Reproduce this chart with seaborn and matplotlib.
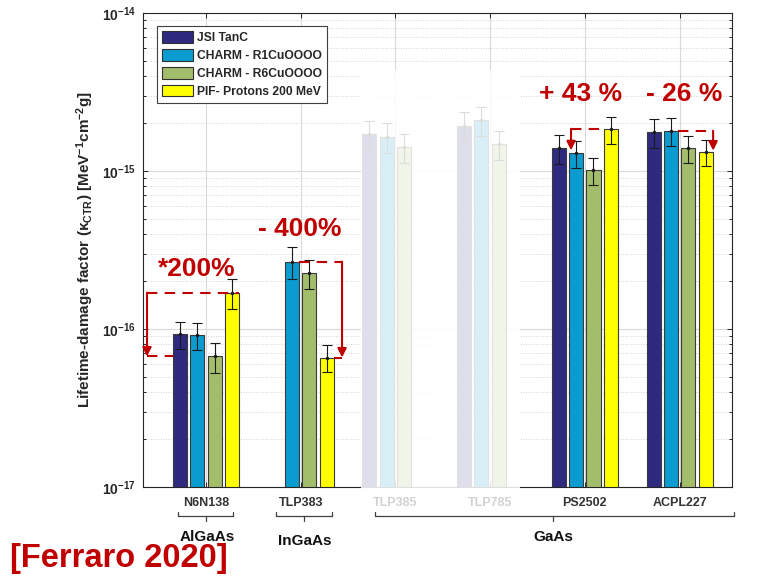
import numpy as np
import pandas as pd
import matplotlib
matplotlib.use("Agg")
import matplotlib.pyplot as plt
from matplotlib.patches import Patch, Rectangle
from matplotlib.ticker import FixedLocator, FuncFormatter, LogLocator, NullFormatter
import seaborn as sns

# ---- data -------------------------------------------------------------
devices = ["N6N138", "TLP383", "TLP385", "TLP785", "PS2502", "ACPL227"]
sources = ["JSI TanC", "CHARM - R1CuOOOO", "CHARM - R6CuOOOO", "PIF- Protons 200 MeV"]
nan = np.nan
jsi = [9.3e-17, nan, 1.72e-15, 1.94e-15, 1.40e-15, 1.77e-15]
r1 = [9.1e-17, 2.67e-16, 1.65e-15, 2.11e-15, 1.30e-15, 1.80e-15]
r6 = [6.7e-17, 2.27e-16, 1.42e-15, 1.49e-15, 1.01e-15, 1.40e-15]
pif = [1.7e-16, 6.6e-17, nan, nan, 1.85e-15, 1.32e-15]
jsi_err = [1.8e-17, nan, 3.6e-16, 4.1e-16, 2.9e-16, 3.7e-16]
r1_err = [1.75e-17, 6.1e-17, 3.5e-16, 4.4e-16, 2.5e-16, 3.5e-16]
r6_err = [1.4e-17, 4.8e-17, 3.0e-16, 3.1e-16, 1.9e-16, 2.7e-16]
pif_err = [3.6e-17, 1.27e-17, nan, nan, 3.6e-16, 2.5e-16]
faded_devices = ["TLP385", "TLP785"]
materials = ["AlGaAs", "InGaAs", "GaAs"]
# relative change labels: (text, device, reference source, compared source)
changes = [
    ("*200%", "N6N138", "PIF- Protons 200 MeV", "CHARM - R6CuOOOO"),
    ("- 400%", "TLP383", "CHARM - R1CuOOOO", "PIF- Protons 200 MeV"),
    ("+ 43 %", "PS2502", "PIF- Protons 200 MeV", "CHARM - R1CuOOOO"),
    ("- 26 %", "ACPL227", "CHARM - R1CuOOOO", "PIF- Protons 200 MeV"),
]
citation = "[Ferraro 2020]"

values = {"JSI TanC": jsi, "CHARM - R1CuOOOO": r1,
          "CHARM - R6CuOOOO": r6, "PIF- Protons 200 MeV": pif}
errors = {"JSI TanC": jsi_err, "CHARM - R1CuOOOO": r1_err,
          "CHARM - R6CuOOOO": r6_err, "PIF- Protons 200 MeV": pif_err}

rows = []
for s in sources:
    for d, v in zip(devices, values[s]):
        rows.append({"device": d, "source": s, "value": v})
df = pd.DataFrame(rows)

# ---- style --------------------------------------------------------------
sns.set_style("ticks")
plt.rcParams["font.family"] = ["Liberation Sans", "DejaVu Sans"]
plt.rcParams["mathtext.fontset"] = "custom"
plt.rcParams["mathtext.rm"] = "Liberation Sans"
plt.rcParams["mathtext.bf"] = "Liberation Sans:bold"
plt.rcParams["mathtext.it"] = "Liberation Sans:italic"
plt.rcParams["mathtext.sf"] = "Liberation Sans"

colors = ["#2E2A80", "#0A9BD0", "#A3BE6A", "#FFFF00"]
red = "#C00000"
axis_col = "#262626"

fig = plt.figure(figsize=(7.77, 5.79), dpi=100)
ax = fig.add_axes([143 / 777, 1 - 487 / 579, (732 - 143) / 777, (487 - 13) / 579])

sns.barplot(data=df, x="device", y="value", hue="source", order=devices,
            hue_order=sources, palette=colors, saturation=1, errorbar=None,
            width=0.732, gap=0.19, edgecolor="#3a3a3a", linewidth=0.8,
            legend=False, ax=ax)
ax.set_yscale("log")
ax.set_ylim(1e-17, 1e-14)
ax.set_xlim(-0.665, 5.554)

# error bars at the drawn bar centres
bars = {}
for s, cont in zip(sources, ax.containers):
    for b in cont:
        if not np.isfinite(b.get_height()) or b.get_height() <= 0:
            continue
        xc = b.get_x() + b.get_width() / 2
        i = int(round(xc))
        bars[(devices[i], s)] = b
        ax.errorbar(xc, values[s][i], yerr=errors[s][i], fmt=".", color="#1a1a1a",
                    ms=3, elinewidth=0.8, capsize=3.5, capthick=0.8, zorder=2)

# grid & ticks
ax.set_axisbelow(True)
ax.yaxis.set_major_locator(FixedLocator([1e-17, 1e-16, 1e-15, 1e-14]))
ax.yaxis.set_minor_locator(LogLocator(base=10, subs=np.arange(2, 10)))
ax.yaxis.set_minor_formatter(NullFormatter())
ax.yaxis.set_major_formatter(FuncFormatter(
    lambda v, p: "10$^{\\mathbf{%d}}$" % int(round(np.log10(v)))))
ax.yaxis.grid(True, which="major", color="#dadada", lw=0.8)
ax.yaxis.grid(True, which="minor", color="#c4c4c4", lw=0.6, ls=(0, (1, 2)))
ax.xaxis.grid(True, which="major", color="#dadada", lw=0.8)
ax.tick_params(axis="both", which="both", direction="in", top=True, right=True,
               color=axis_col, width=0.7)
ax.tick_params(axis="both", which="major", length=3.5)
ax.tick_params(axis="y", which="minor", length=2)
ax.tick_params(axis="x", which="minor", bottom=False, top=False)
ax.tick_params(axis="y", labelsize=10, labelcolor=axis_col, pad=5)
ax.tick_params(axis="x", labelsize=9, pad=7)
for lab in ax.get_yticklabels():
    lab.set_fontweight("bold")
ax.set_xticks(range(len(devices)))
ax.set_xticklabels(devices, fontweight="bold")
for lab, d in zip(ax.get_xticklabels(), devices):
    lab.set_color("#d2d2d2" if d in faded_devices else "#333333")
for sp in ax.spines.values():
    sp.set_visible(True)
    sp.set_color(axis_col)
    sp.set_linewidth(0.8)

ax.set_xlabel("")
ax.set_ylabel(r"Lifetime-damage factor ($\mathbf{\kappa}_{\mathbf{CTR}}$) "
              r"[MeV$^{\mathbf{-1}}$cm$^{\mathbf{-2}}$g]",
              fontsize=11, fontweight="bold", color=axis_col, labelpad=4)

# wash out the devices not compared
xt = ax.get_xaxis_transform()
ax.add_patch(Rectangle((1.637, -0.006), 3.316 - 1.637, 0.886, transform=xt,
                       facecolor="white", edgecolor="none", alpha=0.85,
                       zorder=2.7, clip_on=False))

# legend
handles = [Patch(facecolor=c, edgecolor="#303030", lw=0.8, label=s)
           for s, c in zip(sources, colors)]
leg = ax.legend(handles=handles, loc="upper left",
                bbox_to_anchor=((157 - 143) / 589, 1 - (26 - 13) / 474),
                borderaxespad=0, fancybox=False, framealpha=1, edgecolor="#404040",
                prop={"weight": "bold", "size": 8.7}, handlelength=2.5,
                handleheight=1.1, labelspacing=0.4, handletextpad=0.35,
                borderpad=0.45)
leg.get_frame().set_linewidth(0.8)
leg.set_zorder(6)

# change annotations
def hline(x0, x1, y):
    ax.plot([x0, x1], [y, y], color=red, lw=1.5, ls=(0, (5, 3.5)), zorder=5,
            solid_capstyle="butt", dash_capstyle="butt")

def arrow(x, y0, y1):
    ax.annotate("", xy=(x, y1), xytext=(x, y0),
                arrowprops=dict(arrowstyle="-|>", color=red, lw=1.5,
                                mutation_scale=13, shrinkA=0, shrinkB=0),
                zorder=5)

def edges(d, s):
    b = bars[(d, s)]
    return b.get_x(), b.get_x() + b.get_width(), b.get_height()

text_pos = [(-0.095, 2.41e-16), (0.99, 4.27e-16), (3.95, 3.09e-15), (5.05, 3.09e-15)]
for (label, d, ref, cmp_), (tx, ty) in zip(changes, text_pos):
    rl, rr, rv = edges(d, ref)
    cl, cr, cv = edges(d, cmp_)
    if d == "N6N138":
        jl, _, _ = edges(d, "JSI TanC")
        xa = jl - 0.274
        hline(xa, rr, rv)
        hline(xa, jl, cv)
        arrow(xa, rv, cv)
    elif d == "TLP383":
        xa = cr + 0.088
        hline(rr, xa, rv)
        hline(cr, xa, cv)
        arrow(xa, rv, cv)
    elif d == "PS2502":
        xa = cl + 0.02
        hline(xa, rl, rv)
        arrow(xa, rv, cv * 1.04)
    else:
        xa = cr + 0.006
        hline(rr, xa, rv)
        arrow(xa, rv, cv * 1.02)
    ax.text(tx, ty, label, color=red, fontsize=19, fontweight="bold",
            ha="center", va="center", zorder=6)

# material brackets below the device labels
spans = [(-0.296, 0.285, 0.0), (0.739, 1.33, 1.03), (1.785, 5.575, 3.66)]
label_y = [-0.1055, -0.114, -0.1055]
y_top, y_mid, y_bot = -0.0527, -0.0612, -0.0717
for m, (x0, x1, xc), ly in zip(materials, spans, label_y):
    ax.plot([x0, x0, x1, x1], [y_top, y_mid, y_mid, y_top], transform=xt,
            color="#404040", lw=0.9, clip_on=False)
    ax.plot([xc, xc], [y_mid, y_bot], transform=xt, color="#404040", lw=0.9,
            clip_on=False)
    ax.text(xc + 0.01, ly, m, transform=xt, ha="center", va="center",
            fontsize=11, fontweight="bold", color="#111111")

fig.text(10 / 777, 1 - 558 / 579, citation, color=red, fontsize=23.5,
         fontweight="bold", ha="left", va="center")

fig.savefig("out.png", dpi=100)
